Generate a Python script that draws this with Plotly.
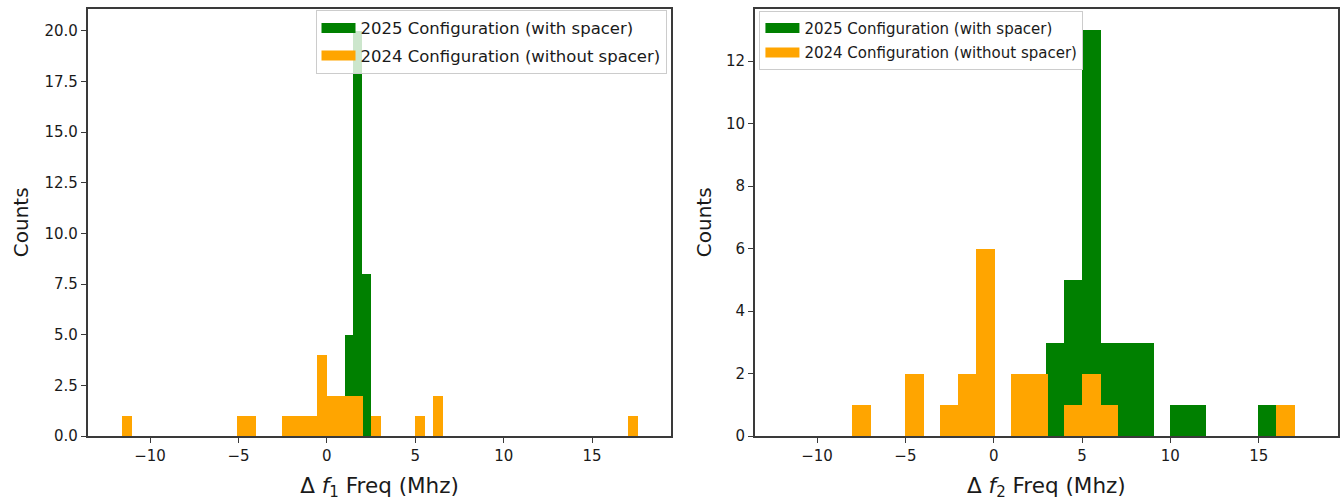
import plotly.graph_objects as go

# ---------------- data ----------------
# Left panel: Δf1 histogram
f1_2025_left_edges = [1.01, 1.485, 1.96]
f1_2025_counts = [5, 20, 8]
f1_2025_width = 0.475

f1_2024_left_edges = [-11.57, -5.05, -4.55, -2.54, -2.04, -1.54, -1.04, -0.53,
                      -0.03, 0.47, 0.98, 1.48, 2.48, 4.99, 5.99, 17.03]
f1_2024_counts = [1, 1, 1, 1, 1, 1, 1, 4, 2, 2, 2, 2, 1, 1, 2, 1]
f1_2024_width = 0.502

# Right panel: Δf2 histogram
f2_2025_left_edges = [3, 4, 5, 6, 7, 8, 10, 11, 15]
f2_2025_counts = [3, 5, 13, 3, 3, 3, 1, 1, 1]
f2_2025_width = 1.0

f2_2024_left_edges = [-8, -5, -3, -2, -1, 1, 2, 4, 5, 6, 16]
f2_2024_counts = [1, 2, 1, 2, 6, 2, 2, 1, 2, 1, 1]
f2_2024_width = 1.0

x_ticks = [-10, -5, 0, 5, 10, 15]
left_y_ticks = [0, 2.5, 5, 7.5, 10, 12.5, 15, 17.5, 20]
right_y_ticks = [0, 2, 4, 6, 8, 10, 12]

label_2025 = "2025 Configuration (with spacer)"
label_2024 = "2024 Configuration (without spacer)"

GREEN = "#008000"
ORANGE = "#FFA500"
FONT = "DejaVu Sans"
W, H = 1340, 503
SEAM = 0.06  # tiny overlap (≈1 px) so adjacent bins render without hairline gaps


def centers(edges, w):
    return [e + w / 2 for e in edges]


def bar(edges, counts, w, col, xa, ya, name):
    return go.Bar(x=centers(edges, w), y=counts, width=w + SEAM,
                  marker=dict(color=col, line=dict(width=0)),
                  xaxis=xa, yaxis=ya, showlegend=False, name=name)


fig = go.Figure()

# bars: 2025 (green) first, 2024 (orange) drawn on top
fig.add_trace(bar(f1_2025_left_edges, f1_2025_counts, f1_2025_width, GREEN, "x", "y", label_2025))
fig.add_trace(bar(f1_2024_left_edges, f1_2024_counts, f1_2024_width, ORANGE, "x", "y", label_2024))
fig.add_trace(bar(f2_2025_left_edges, f2_2025_counts, f2_2025_width, GREEN, "x2", "y2", label_2025))
fig.add_trace(bar(f2_2024_left_edges, f2_2024_counts, f2_2024_width, ORANGE, "x2", "y2", label_2024))

# legend entries (wide patch-like keys)
for name, col in [(label_2025, GREEN), (label_2024, ORANGE)]:
    fig.add_trace(go.Scatter(x=[None], y=[None], mode="lines", name=name,
                             line=dict(color=col, width=11), xaxis="x", yaxis="y",
                             legend="legend", legendgroup=name + "L"))
for name, col in [(label_2025, GREEN), (label_2024, ORANGE)]:
    fig.add_trace(go.Scatter(x=[None], y=[None], mode="lines", name=name,
                             line=dict(color=col, width=11), xaxis="x2", yaxis="y2",
                             legend="legend2", legendgroup=name + "R"))

x_left = [87.7 / W, 672 / W]
x_right = [755.3 / W, 1339 / W]
y_dom = [1 - 444 / H, 1 - 8.7 / H]

axis_common = dict(showline=True, linecolor="#3a3a3a", linewidth=1.5, mirror=True,
                   ticks="outside", ticklen=5, tickwidth=1.2, tickcolor="#3a3a3a",
                   showgrid=False, zeroline=False,
                   tickfont=dict(family=FONT, size=15, color="#1a1a1a"))

xr = [-13.53, 19.49]
fig.update_layout(
    width=W, height=H,
    margin=dict(l=0, r=0, t=0, b=0),
    paper_bgcolor="white", plot_bgcolor="white",
    barmode="overlay", bargap=0,
    font=dict(family=FONT, color="#1a1a1a"),
    xaxis=dict(domain=x_left, anchor="y", range=xr, tickvals=x_ticks,
               title=dict(text="Δ <i>f</i><sub>1</sub> Freq (Mhz)", font=dict(size=21.5), standoff=14),
               **axis_common),
    yaxis=dict(domain=y_dom, anchor="x", range=[0, 21.1], tickvals=left_y_ticks,
               tickformat=".1f",
               title=dict(text="Counts", font=dict(size=20), standoff=10),
               **axis_common),
    xaxis2=dict(domain=x_right, anchor="y2", range=xr, tickvals=x_ticks,
                title=dict(text="Δ <i>f</i><sub>2</sub> Freq (Mhz)", font=dict(size=21.5), standoff=14),
                **axis_common),
    yaxis2=dict(domain=y_dom, anchor="x2", range=[0, 13.68], tickvals=right_y_ticks,
                title=dict(text="Counts", font=dict(size=20), standoff=9),
                **axis_common),
    legend=dict(x=667 / W, xanchor="right", y=1 - 10 / H, yanchor="top",
                bgcolor="rgba(255,255,255,0.8)", bordercolor="#cccccc", borderwidth=1,
                font=dict(family=FONT, size=16.5, color="#1a1a1a"),
                traceorder="grouped", tracegroupgap=3, itemwidth=34),
    legend2=dict(x=760 / W, xanchor="left", y=1 - 11 / H, yanchor="top",
                 bgcolor="rgba(255,255,255,0.8)", bordercolor="#cccccc", borderwidth=1,
                 font=dict(family=FONT, size=15, color="#1a1a1a"),
                 traceorder="grouped", tracegroupgap=2, itemwidth=34),
)

fig.write_html("out.html")
